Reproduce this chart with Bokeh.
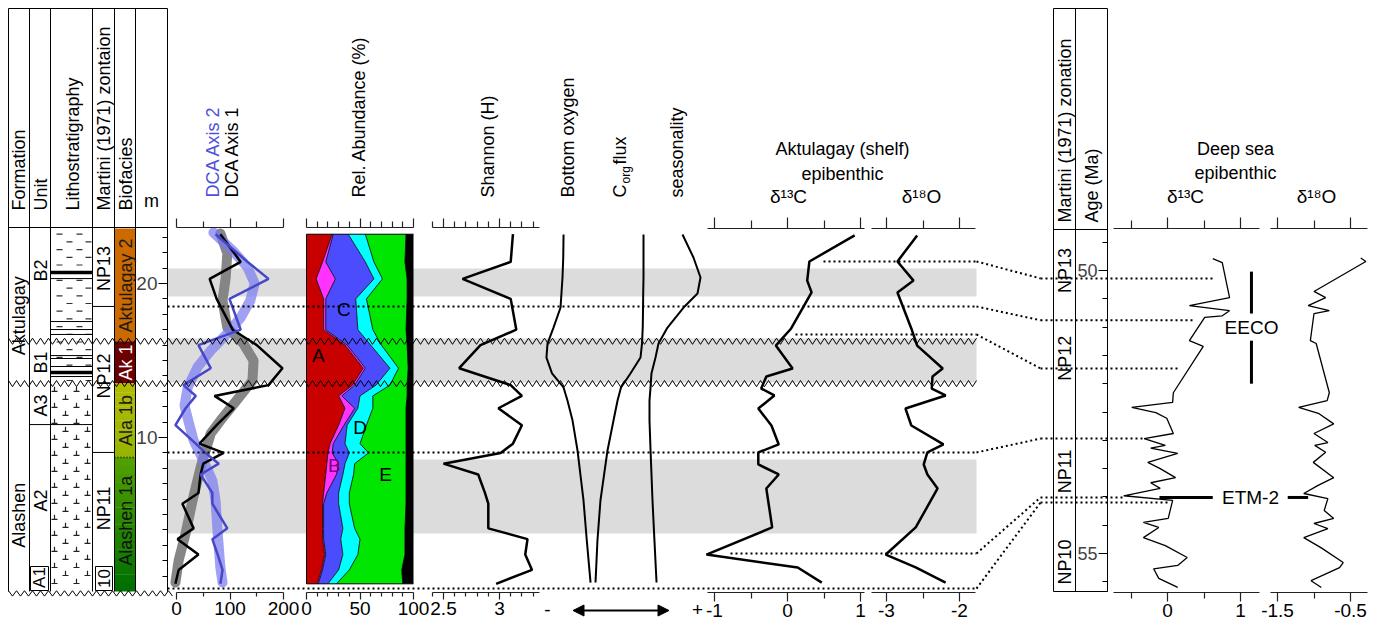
import numpy as np
from bokeh.plotting import figure
from bokeh.models import (Range1d, LinearAxis, FixedTicker, CustomJSTickFormatter,
                          Arrow, NormalHead)
from bokeh.core.properties import value
from bokeh.embed import file_html
from bokeh.resources import INLINE

# ======================= DATA =======================
# Aktulagay foraminiferal samples (depth in m)
foram_depth = [23.2, 21.4, 20.3, 19.0, 17.0, 16.0, 14.5, 13.4, 12.7, 11.9, 10.8,
               9.6, 9.0, 8.3, 7.6, 6.4, 5.7, 4.1, 3.4, 2.4, 1.4, 0.5]
dca_axis1 = [82, 120, 62, 75, 105, 150, 198, 172, 71, 107, 75,
             43, 88, 50, 45, 41, 11, 32, 2, 41, 4, -2]
dca_axis2 = [73, 133, 172, 99, 120, 41, 64, 13, 36, 17, -2,
             36, 54, 79, 45, 67, 67, 95, 67, 77, 86, 82]
dca1_smooth_depth = [23.25, 21.95, 20.39, 18.9, 17.14, 16.1, 15.0, 13.7, 12.4, 11.23,
                     10.26, 8.05, 5.91, 3.77, 2.01, 0.58]
dca1_smooth = [82, 95, 92, 86, 95, 125, 144, 142, 112, 85, 64, 45, 30, 17, 4, -2]
dca2_smooth_depth = [23.31, 22.14, 21.04, 20.0, 18.9, 17.79, 16.75, 15.65, 14.55, 13.25,
                     12.08, 11.1, 9.81, 8.51, 7.21, 5.91, 3.77, 1.56, 0.58]
dca2_smooth = [69, 105, 133, 146, 138, 120, 95, 64, 39, 21, 15, 22, 32, 50, 67, 73, 77, 82, 86]

# relative abundance (%) of biofacies groups A-E (remainder: other taxa)
abund_A = [24, 15, 9, 16, 16, 36, 53, 43, 30, 36, 30, 22, 20, 19, 18, 16, 15, 15, 15, 17, 14, 10]
abund_B = [1, 3, 18, 2, 2, 2, 2, 2, 3, 9, 5, 3, 4, 11, 10, 3, 1, 1, 1, 1, 1, 1]
abund_C = [14, 37, 36, 28, 30, 22, 23, 20, 17, 3, 3, 11, 16, 6, 6, 11, 14, 18, 16, 16, 15, 9]
abund_D = [16, 8, 8, 10, 14, 10, 8, 13, 12, 14, 18, 14, 18, 9, 10, 10, 10, 11, 18, 14, 10, 8]
abund_E = [38, 29, 23, 38, 31, 24, 9, 16, 32, 31, 37, 43, 35, 48, 49, 53, 53, 47, 42, 44, 49, 62]

shannon_h = [3.12, 3.10, 2.67, 3.10, 3.15, 2.83, 2.64, 3.10, 3.20, 2.99, 3.20,
             3.12, 3.01, 2.50, 2.81, 2.87, 2.90, 2.90, 3.25, 3.23, 3.29, 2.97]

# qualitative proxies (0 = "-", 1 = "+")
proxy_depth = [23.18, 21.69, 20.39, 19.35, 18.44, 17.14, 16.10, 15.19, 14.16, 13.25,
               12.40, 11.10, 9.16, 5.91, 3.31, 0.58]
bottom_oxygen = [0.107, 0.105, 0.100, 0.093, 0.087, 0.040, 0.000, -0.007, 0.030, 0.107,
                 0.133, 0.167, 0.200, 0.240, 0.262, 0.287]
corg_flux = [0.640, 0.640, 0.640, 0.638, 0.637, 0.635, 0.630, 0.620, 0.553, 0.490,
             0.467, 0.440, 0.400, 0.353, 0.333, 0.320]
seasonality = [0.900, 0.973, 1.020, 1.000, 0.907, 0.800, 0.740, 0.720, 0.693, 0.687,
               0.680, 0.680, 0.687, 0.700, 0.713, 0.727]

# Aktulagay (shelf) epibenthic isotopes
iso_depth = [23.12, 21.43, 20.19, 19.42, 17.08, 15.97, 14.48, 13.96, 13.18, 12.73, 11.88,
             10.78, 9.55, 9.03, 8.25, 7.60, 6.69, 4.16, 2.40, 1.56, 0.58]
akt_d13c = [0.92, 0.30, 0.27, 0.33, 0.05, -0.16, 0.07, -0.29, -0.36, -0.18, -0.40,
            -0.22, -0.12, -0.40, -0.40, -0.12, -0.29, -0.21, -1.11, 0.14, 0.47]
akt_d18o = [-2.58, -2.85, -2.63, -2.85, -2.66, -2.58, -2.23, -2.37, -2.38, -2.19, -2.74,
            -2.66, -2.22, -2.44, -2.49, -2.44, -2.30, -2.60, -3.01, -2.60, -2.19]

# Deep sea epibenthic isotopes (age in Ma)
deep_c_age = [49.79, 49.86, 50.48, 50.62, 50.71, 50.80, 50.83, 51.24, 51.34, 52.16, 52.33,
              52.42, 52.51, 52.61, 52.88, 52.97, 53.09, 53.14, 53.23, 53.39, 53.50, 53.66,
              53.75, 53.85, 53.98, 54.06, 54.38, 54.45, 54.54, 54.72, 54.86, 55.07, 55.21,
              55.27, 55.44, 55.60]
deep_d13c = [0.62, 0.75, 0.85, 0.30, 0.85, 0.75, 0.51, 0.30, 0.49, 0.08, 0.07,
             -0.49, -0.16, -0.01, 0.08, -0.32, -0.03, -0.23, 0.14, -0.27, -0.10, 0.11,
             -0.23, -0.10, -0.60, 0.07, 0.01, -0.33, -0.12, -0.33, -0.03, 0.27, 0.14,
             -0.19, -0.12, 0.14]
deep_o_age = [49.78, 49.84, 50.37, 50.48, 50.62, 50.71, 50.76, 51.24, 51.29, 52.16, 52.30,
              52.42, 52.53, 52.71, 52.88, 53.04, 53.09, 53.21, 53.39, 53.66, 53.80, 53.94,
              54.03, 54.24, 54.38, 54.47, 54.56, 54.72, 54.90, 55.16, 55.25, 55.48, 55.60]
deep_d18o = [-0.36, -0.29, -1.00, -0.84, -1.08, -0.79, -1.00, -1.05, -0.97, -0.79, -0.82,
             -1.21, -0.93, -0.73, -1.00, -0.81, -0.99, -0.84, -1.01, -0.73, -0.95, -1.14,
             -0.81, -0.86, -0.73, -1.00, -0.81, -1.14, -0.90, -0.60, -0.65, -1.04, -0.90]

# stratigraphy (depth, m)
section_top = 23.57
unconformity_depth = [16.25, 13.5]
band_top = [20.97, 16.43, 8.57]
band_bottom = [19.16, 13.57, 3.77]
formation_names = ["Aktulagay", "Alashen"]
formation_label_depth = [17.9, 4.95]
unit_names = ["B2", "B1", "A3", "A2"]
unit_label_depth = [20.84, 14.87, 12.08, 5.91]
unit_boundary_a3_a2 = 10.84
martini_names = ["NP13", "NP12", "NP11"]
martini_label_depth = [20.97, 14.0, 5.4]
martini_boundaries = [18.51, 9.03]
biofacies_names = ["Aktulagay 2", "Ak 1", "Ala 1b", "Alashen 1a"]
biofacies_top = [23.57, 16.25, 13.5, 8.7]
biofacies_bottom = [16.25, 13.5, 8.7, 0.0]
biofacies_label_depth = [19.87, 14.87, 11.1, 4.6]
litho_bed_depth = [20.71, 20.32, 17.53, 17.01, 16.69, 15.32, 15.13, 14.61, 14.22, 13.96]
litho_bed_width = [3.5, 1, 1, 1, 1, 1, 1, 1, 3.5, 1]

# tie points Aktulagay depth -> deep sea age
tie_depth = [21.43, 18.51, 16.69, 9.03, 2.47, 0.19]
tie_age = [50.14, 50.88, 51.73, 52.97, 54.01, 54.10]
tie_start_x = [823, 167, 795, 167, 730, 167]
tie_end_x = [1215, 1192, 1178, 1143, 1123, 1167]
deep_zone_names = ["NP13", "NP12", "NP11", "NP10"]
deep_zone_label_age = [50.0, 51.55, 53.55, 55.15]
eeco_age = [50.02, 52.0]
etm2_age = 54.01

# ======================= LAYOUT =======================
FL, FR, FT, FB = 0, 1383, 0, 625
FONT = value("Liberation Sans")


def rng_x(va, pa, vb, pb):
    k = (vb - va) / (pb - pa)
    return Range1d(start=va + (FL - pa) * k, end=va + (FR - pa) * k)


def rng_y(va, pa, vb, pb):
    k = (vb - va) / (pb - pa)
    return Range1d(start=va + (FB - pa) * k, end=va + (FT - pa) * k)


def D(py):  # page y -> depth
    return (py - 591) * 20.0 / (283 - 591)


def A2D(a):  # age -> depth at same screen height
    return D(270 + (a - 50) * (553 - 270) / 5.0)


def Y(py):  # page y -> 'py' range
    return FB - py


p = figure(width=FR - FL, height=FB - FT, x_range=Range1d(FL, FR),
           y_range=rng_y(0, 591, 20, 283), x_axis_type=None, y_axis_type=None,
           toolbar_location=None, output_backend="svg", min_border=0,
           outline_line_color=None, title=None, background_fill_color="white",
           border_fill_color="white")
p.extra_y_ranges = {"age": rng_y(50, 270, 55, 553), "py": Range1d(0, FB - FT)}
p.extra_x_ranges = {
    "dca": rng_x(0, 176, 200, 283),
    "ab": rng_x(0, 306, 100, 413),
    "sh": rng_x(2.5, 443, 3.0, 499),
    "px": rng_x(0, 547, 1, 697),
    "c13": rng_x(-1, 714, 1, 860),
    "o18": rng_x(-3, 886, -2, 959),
    "dc13": rng_x(0, 1167, 1, 1240),
    "do18": rng_x(-1.5, 1277, -0.5, 1350),
}


def txt(x, y, s, size=18, angle=0.0, align="center", baseline="middle",
        color="black", xr="default"):
    p.text(x=[x], y=[Y(y)], text=[s], angle=angle, text_align=align,
           text_baseline=baseline, text_font=FONT, text_font_size=f"{size}px",
           text_color=color, x_range_name=xr, y_range_name="py")


def hseg(x0, x1, y, w=1.0, color="black"):
    p.segment(x0=[x0], x1=[x1], y0=[Y(y)], y1=[Y(y)], line_color=color,
              line_width=w, y_range_name="py")


def vseg(x, y0, y1, w=1.0, color="black"):
    p.segment(x0=[x], x1=[x], y0=[Y(y0)], y1=[Y(y1)], line_color=color,
              line_width=w, y_range_name="py")


# ---- grey bands ----
p.quad(left=167, right=976, top=band_top, bottom=band_bottom, fill_color="#DCDCDC",
       line_color=None)

# ---- biofacies column ----
def hexc(c):
    return "#%02x%02x%02x" % tuple(int(round(v)) for v in c)


bio_cols = [(204, 106, 0), (107, 0, 0)]
for i in range(2):
    p.quad(left=114, right=135, top=biofacies_top[i], bottom=biofacies_bottom[i],
           fill_color=hexc(bio_cols[i]), line_color=None)
grad = [((178, 188, 0), (150, 180, 0)), ((80, 160, 0), (0, 112, 0))]
for i in range(2, 4):
    t0, b0 = biofacies_top[i], biofacies_bottom[i]
    n = 16
    c1, c2 = grad[i - 2]
    for k in range(n):
        f = k / (n - 1)
        c = [c1[j] + (c2[j] - c1[j]) * f for j in range(3)]
        tt = t0 - (t0 - b0) * k / n
        bb = t0 - (t0 - b0) * (k + 1) / n
        p.quad(left=114, right=135, top=tt + 0.02, bottom=bb, fill_color=hexc(c),
               line_color=None)
p.segment(x0=[114], x1=[135], y0=[biofacies_bottom[2]], y1=[biofacies_bottom[2]],
          line_color="black", line_width=1.3, line_dash="1 2")

# ---- lithology patterns ----
dash_x0, dash_y = [], []
row = 0
d = 23.2
while d > 13.6:
    xs = [56, 76] if row % 2 == 0 else [66, 85]
    for xx in xs:
        dash_x0.append(xx)
        dash_y.append(d)
    d -= 0.5
    row += 1
p.segment(x0=dash_x0, x1=[v + 6 for v in dash_x0], y0=dash_y, y1=dash_y,
          line_color="#333333", line_width=1.2)
t_x, t_y = [], []
row = 0
d = 13.0
while d > 0.2:
    xs = [54, 76] if row % 2 == 0 else [65, 87]
    for xx in xs:
        t_x.append(xx)
        t_y.append(d)
    d -= 0.52
    row += 1
p.segment(x0=[v - 3 for v in t_x], x1=[v + 3 for v in t_x], y0=t_y, y1=t_y,
          line_color="#222222", line_width=1.2)
p.segment(x0=t_x, x1=t_x, y0=t_y, y1=[v + 0.3 for v in t_y], line_color="#222222",
          line_width=1.2)
for dd, ww in zip(litho_bed_depth, litho_bed_width):
    p.segment(x0=[50], x1=[92], y0=[dd], y1=[dd], line_color="black", line_width=ww)
p.segment(x0=[29], x1=[92], y0=[unit_boundary_a3_a2], y1=[unit_boundary_a3_a2],
          line_color="black", line_width=1)
for dd in martini_boundaries:
    p.segment(x0=[92], x1=[114], y0=[dd], y1=[dd], line_color="black", line_width=1)

# small boxes A1 / NP10
for (xl, xr_) in [(30, 48), (95, 112)]:
    p.quad(left=xl, right=xr_, top=D(566), bottom=D(590), fill_color="white",
           line_color="black", line_width=1)

# ---- strat table lines ----
for xx in [8, 29, 50, 92, 114, 135, 167]:
    vseg(xx, 8, 591)
hseg(8, 167, 8)
hseg(8, 167, 227)
for xx in [1053, 1075, 1107]:
    vseg(xx, 8, 591)
hseg(1053, 1107, 8)
hseg(1053, 1107, 229)
hseg(1053, 1107, 591)

# ---- DCA ----
p.line(dca1_smooth, dca1_smooth_depth, x_range_name="dca", line_color="#808080",
       line_width=10, line_alpha=0.95, line_cap="round", line_join="round")
p.line(dca2_smooth, dca2_smooth_depth, x_range_name="dca", line_color="#7878F0",
       line_width=10, line_alpha=0.7, line_cap="round", line_join="round")
p.line(dca_axis1, foram_depth, x_range_name="dca", line_color="black", line_width=2.5)
p.line(dca_axis2, foram_depth, x_range_name="dca", line_color="#4646C8", line_width=2.5)

# ---- relative abundance ----
groups = [abund_A, abund_B, abund_C, abund_D, abund_E]
colors = ["#C80000", "#FF33FF", "#4C4CFF", "#00FFFF", "#00E600"]
cum_prev = [0.0] * len(foram_depth)
cums = []
for g, c in zip(groups, colors):
    cum = [a + b for a, b in zip(cum_prev, g)]
    p.harea(x1=cum_prev, x2=cum, y=foram_depth, fill_color=c, x_range_name="ab")
    cums.append(cum)
    cum_prev = cum
p.harea(x1=cum_prev, x2=[100.0] * len(foram_depth), y=foram_depth, fill_color="black",
        x_range_name="ab")
for cum in cums:
    p.line(cum, foram_depth, line_color="black", line_width=0.8, x_range_name="ab")
p.line([0, 0], [foram_depth[0], foram_depth[-1]], line_color="black", line_width=1,
       x_range_name="ab")
p.line([0, 100], [foram_depth[0], foram_depth[0]], line_color="black", line_width=1,
       x_range_name="ab")
p.line([0, 100], [foram_depth[-1], foram_depth[-1]], line_color="black", line_width=1,
       x_range_name="ab")
for s, xx, yy, col in [("A", 11, D(355), "black"), ("B", 26, D(465), "#800080"),
                       ("C", 35, D(309), "black"), ("D", 50, D(427), "black"),
                       ("E", 74, D(474), "black")]:
    p.text(x=[xx], y=[yy], text=[s], text_align="center", text_baseline="middle",
           text_font=FONT, text_font_size="19px", text_color=col, x_range_name="ab")

# ---- Shannon ----
p.line(shannon_h, foram_depth, x_range_name="sh", line_color="black", line_width=2.5)

# ---- proxies ----
for ser in [bottom_oxygen, corg_flux, seasonality]:
    p.line(ser, proxy_depth, x_range_name="px", line_color="black", line_width=2)

# ---- Aktulagay isotopes ----
p.line(akt_d13c, iso_depth, x_range_name="c13", line_color="black", line_width=2.5)
p.line(akt_d18o, iso_depth, x_range_name="o18", line_color="black", line_width=2.5)

# ---- deep sea isotopes ----
p.line(deep_d13c, deep_c_age, x_range_name="dc13", y_range_name="age",
       line_color="black", line_width=1.3)
p.line(deep_d18o, deep_o_age, x_range_name="do18", y_range_name="age",
       line_color="black", line_width=1.3)

# EECO / ETM-2
p.segment(x0=[1.15, 1.15], x1=[1.15, 1.15], y0=[eeco_age[0], 51.24], y1=[50.76, eeco_age[1]],
          x_range_name="dc13", y_range_name="age", line_color="black", line_width=3)
txt(1251, 327, "EECO", 19)
p.segment(x0=[-0.11], x1=[0.62], y0=[etm2_age], y1=[etm2_age], x_range_name="dc13",
          y_range_name="age", line_color="black", line_width=3)
p.segment(x0=[-1.36], x1=[-1.08], y0=[etm2_age], y1=[etm2_age], x_range_name="do18",
          y_range_name="age", line_color="black", line_width=3)
txt(1250, 497, "ETM-2", 19)

# ---- unconformities (zigzags) ----
zz_x = np.arange(8, 977, 4)
zz_off = np.where(np.arange(len(zz_x)) % 2 == 0, 0.2, -0.2)
for dd in unconformity_depth:
    p.line(zz_x, dd + zz_off, line_color="black", line_width=1)
zb_x = np.arange(8, 174, 4)
p.line(zb_x, np.where(np.arange(len(zb_x)) % 2 == 0, 0.05, -0.3),
       line_color="black", line_width=1)

# ---- tie lines ----
DOT = dict(line_color="black", line_width=2, line_dash="2 3")
p.segment(x0=tie_start_x, x1=[976] * 6, y0=tie_depth, y1=tie_depth, **DOT)
p.segment(x0=[976] * 6, x1=[1040] * 6, y0=tie_depth, y1=[A2D(a) for a in tie_age], **DOT)
p.segment(x0=[1040] * 6, x1=tie_end_x, y0=tie_age, y1=tie_age, y_range_name="age", **DOT)

# ======================= AXES =======================
TOP_L, TOP_R, BOT = D(227), D(228), D(592)


def add_axis(rname, side, ticks, minor, bounds, loc, labels, maj, mnr, yr="default"):
    ax = LinearAxis(x_range_name=rname, y_range_name=yr, fixed_location=loc, bounds=bounds,
                    ticker=FixedTicker(ticks=ticks, minor_ticks=minor))
    ax.axis_line_color = "#222222"
    ax.axis_line_width = 1.2
    ax.major_tick_line_color = "#222222"
    ax.minor_tick_line_color = "#222222"
    ax.major_tick_line_width = 1.2
    ax.minor_tick_line_width = 1.2
    ax.major_tick_out, ax.major_tick_in = maj, 0
    ax.minor_tick_out, ax.minor_tick_in = mnr, 0
    ax.major_label_text_font = "Liberation Sans"
    ax.major_label_text_font_size = "19px"
    ax.major_label_text_color = "black"
    ax.major_label_standoff = 2
    if labels:
        ax.formatter = CustomJSTickFormatter(code="return String(Math.round(tick*100)/100);")
    else:
        ax.formatter = CustomJSTickFormatter(code="return '';")
    p.add_layout(ax, side)


panels = [
    ("dca", [0, 100, 200], [50, 150], (0, 200), TOP_L, 7, 4),
    ("ab", [0, 50, 100], [10, 20, 30, 40, 60, 70, 80, 90], (0, 100), TOP_L, 7, 4),
    ("sh", [2.5, 3.0], [2.4, 2.6, 2.7, 2.8, 2.9, 3.1, 3.2, 3.3], (2.4, 3.36), TOP_L, 7, 4),
    ("c13", [-1, 0, 1], [-0.5, 0.5], (-1.1, 1.05), TOP_R, 9, 6),
    ("o18", [-3, -2], [-2.5], (-3.2, -1.78), TOP_R, 9, 6),
    ("dc13", [0, 1], [-0.5, 0.5], (-0.74, 1.26), TOP_R, 9, 6),
    ("do18", [-1.5, -0.5], [-1.0], (-1.6, -0.27), TOP_R, 9, 6),
]
for rname, ticks, minor, bnds, toploc, maj, mnr in panels:
    add_axis(rname, "above", ticks, minor, bnds, toploc, False, maj + 2, mnr + 2)
    add_axis(rname, "below", ticks, minor, bnds, BOT, True, maj, mnr)

# depth axis (m)
dax = LinearAxis(fixed_location=167, bounds=(0, section_top),
                 ticker=FixedTicker(ticks=[10, 20],
                                    minor_ticks=[i for i in range(1, 24) if i % 10]))
# age axis (Ma)
aax = LinearAxis(y_range_name="age", fixed_location=1107, bounds=(49.26, 55.67),
                 ticker=FixedTicker(ticks=[50, 55],
                                    minor_ticks=[49.5 + 0.5 * i for i in range(13) if (49.5 + 0.5 * i) not in (50, 55)]))
for ax, fs in [(dax, "19px"), (aax, "18px")]:
    ax.axis_line_color = "black"
    ax.major_tick_out, ax.major_tick_in = 9, 0
    ax.minor_tick_out, ax.minor_tick_in = 5, 0
    ax.major_label_text_font = "Liberation Sans"
    ax.major_label_text_font_size = fs
    ax.major_label_standoff = 1
    ax.formatter = CustomJSTickFormatter(code="return String(tick);")
    p.add_layout(ax, "left")

# proxy arrow and +/- labels
p.add_layout(Arrow(x_start=0.17, x_end=0.81, y_start=D(610), y_end=D(610), x_range_name="px",
                   line_width=2, start=NormalHead(size=11, fill_color="black"),
                   end=NormalHead(size=11, fill_color="black")))
p.text(x=[0, 1], y=[D(609), D(609)], text=["-", "+"], text_align="center",
       text_baseline="middle", text_font=FONT, text_font_size="19px", x_range_name="px")

# ======================= TEXT =======================
R = np.pi / 2
# left header
for x, s in [(18, "Formation"), (40, "Unit"), (72, "Lithostratigraphy"),
             (103, "Martini (1971) zontaion"), (125, "Biofacies")]:
    txt(x, 210, s, 18, R, "left")
txt(151, 200, "m", 18)
for s, dd in zip(formation_names, formation_label_depth):
    txt(18, 591 - dd * 15.4, s, 18, R)
for s, dd in zip(unit_names, unit_label_depth):
    txt(40, 591 - dd * 15.4, s, 18, R)
txt(39, 577, "A1", 17, R)
for s, dd in zip(martini_names, martini_label_depth):
    txt(103, 591 - dd * 15.4, s, 18, R)
txt(103, 578, "10", 17, R)
bio_txt_col = ["#1a1a1a", "white", "#1a1a1a", "#111111"]
for s, dd, c in zip(biofacies_names, biofacies_label_depth, bio_txt_col):
    txt(125, 591 - dd * 15.4, s, 18, R, color=c)

# panel titles
txt(212, 197, "DCA Axis 2", 18, R, "left", color="#5050DC")
txt(231, 197, "DCA Axis 1", 18, R, "left")
txt(358, 197, "Rel. Abundance (%)", 18, R, "left")
txt(487, 197, "Shannon (H)", 18, R, "left")
txt(567, 197, "Bottom oxygen", 18, R, "left")
txt(619, 197, "C", 18, R, "left")
txt(625, 183, "org", 12, R, "left")
txt(619, 164, "flux", 18, R, "left")
txt(676, 197, "seasonality", 18, R, "left")
txt(842, 148, "Aktulagay (shelf)", 18)
txt(842, 173, "epibenthic", 18)
txt(788, 196, "δ¹³C", 19)
txt(921, 196, "δ¹⁸O", 19)
txt(1235, 148, "Deep sea", 18)
txt(1235, 172, "epibenthic", 18)
txt(1185, 196, "δ¹³C", 19)
txt(1316, 196, "δ¹⁸O", 19)

# right header
txt(1064, 222, "Martini (1971) zonation", 18, R, "left")
txt(1091, 222, "Age (Ma)", 18, R, "left")
for s, a in zip(deep_zone_names, deep_zone_label_age):
    txt(1064, 270 + (a - 50) * 56.6, s, 18, R)

open("out.html", "w").write(file_html(p, INLINE))
